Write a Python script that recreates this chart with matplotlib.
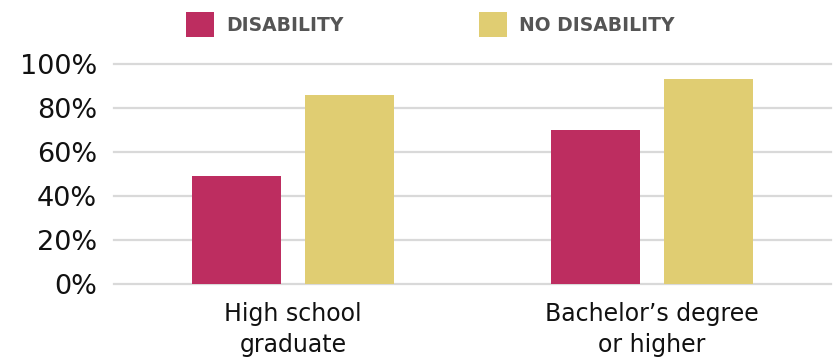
import matplotlib
matplotlib.use("Agg")
import matplotlib.pyplot as plt
import numpy as np
from matplotlib.patches import Patch

# ── data ───────────────────────────────────────────────────────────────────────
categories    = ["High school\ngraduate", "Bachelor\u2019s degree\nor higher"]
disability    = [49, 70]
no_disability = [86, 93]
series_labels = ["DISABILITY", "NO DISABILITY"]
y_ticks       = [0, 20, 40, 60, 80, 100]

# ── style ──────────────────────────────────────────────────────────────────────
MAGENTA = "#BD2D60"
YELLOW  = "#E0CD72"
GRID    = "#D9D9D9"
LEGEND_INK = "#555555"

plt.rcParams["font.family"] = ["DejaVu Sans"]

fig = plt.figure(figsize=(8.37, 3.6), dpi=100)
ax = fig.add_axes([0.136, 0.211, 0.857, 0.612])

x = np.arange(len(categories))
w = 0.248
off = 0.157
ax.bar(x - off, disability, w, color=MAGENTA, zorder=3)
ax.bar(x + off, no_disability, w, color=YELLOW, zorder=3)

ax.set_xlim(-0.5, 1.5)
ax.set_ylim(0, 100)
ax.set_yticks(y_ticks)
ax.set_yticklabels([f"{v}%" for v in y_ticks], fontsize=19.5)
ax.set_xticks(x)
ax.set_xticklabels(categories, fontsize=17, linespacing=1.35)
ax.tick_params(axis="both", length=0, colors="#111111")
ax.tick_params(axis="y", pad=12)
ax.tick_params(axis="x", pad=13)

for v in y_ticks:
    ax.axhline(v, color=GRID, lw=1.6, zorder=1, clip_on=False)
for s in ax.spines.values():
    s.set_visible(False)

handles = [Patch(facecolor=MAGENTA), Patch(facecolor=YELLOW)]
leg = fig.legend(handles, series_labels, ncol=2, loc="center",
                 bbox_to_anchor=(0.514, 0.932), frameon=False,
                 prop={"weight": "bold", "size": 13.5},
                 handlelength=1.49, handleheight=1.65, handletextpad=0.62,
                 columnspacing=7.25, borderpad=0)
for t in leg.get_texts():
    t.set_color(LEGEND_INK)

fig.savefig("out.png", dpi=100, facecolor="white")
